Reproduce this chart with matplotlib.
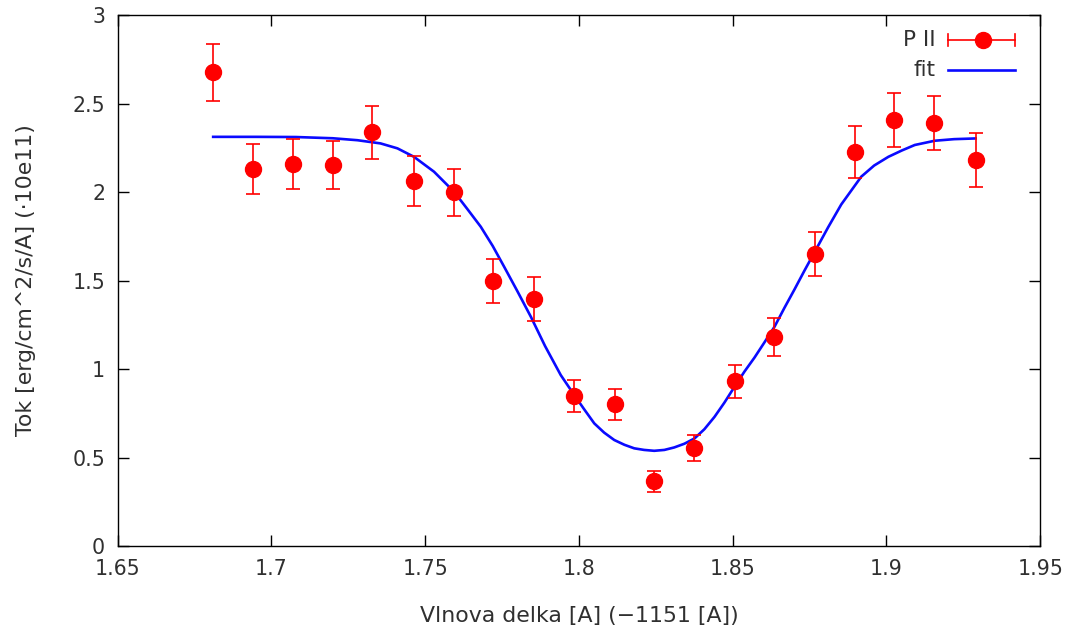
import matplotlib

matplotlib.use("Agg")
import matplotlib.pyplot as plt

wave = [1.6811, 1.6941, 1.7072, 1.7202, 1.7329, 1.7463, 1.7593, 1.7720, 1.7853, 1.7984,
        1.8117, 1.8244, 1.8375, 1.8508, 1.8635, 1.8769, 1.8899, 1.9026, 1.9156, 1.9290]
flux = [2.678, 2.130, 2.158, 2.153, 2.339, 2.062, 2.000, 1.497, 1.395, 0.847,
        0.802, 0.367, 0.554, 0.932, 1.181, 1.650, 2.226, 2.407, 2.390, 2.181]
flux_err = [0.161, 0.141, 0.141, 0.136, 0.150, 0.141, 0.133, 0.124, 0.124, 0.090,
            0.088, 0.059, 0.073, 0.093, 0.107, 0.127, 0.147, 0.153, 0.153, 0.150]

# fit curve
fit_x = [1.6811, 1.695, 1.708, 1.720, 1.7280, 1.7355, 1.7410, 1.7464, 1.7529, 1.7594,
         1.7637, 1.7681, 1.7720, 1.7757, 1.7800, 1.7844, 1.7890, 1.7941, 1.7985, 1.8017,
         1.8050, 1.8082, 1.8115, 1.8148, 1.8180, 1.8212, 1.8245, 1.8278, 1.8310, 1.8343,
         1.8376, 1.8408, 1.8441, 1.8473, 1.8506, 1.8538, 1.8571, 1.8603, 1.8636, 1.8668,
         1.8701, 1.8733, 1.8766, 1.8810, 1.8853, 1.8918, 1.8960, 1.9006, 1.9050, 1.9092,
         1.9157, 1.9220, 1.9290]
fit_y = [2.312, 2.312, 2.311, 2.304, 2.293, 2.275, 2.247, 2.199, 2.115, 2.002,
         1.905, 1.804, 1.695, 1.578, 1.440, 1.295, 1.130, 0.966, 0.853, 0.773,
         0.693, 0.641, 0.599, 0.572, 0.552, 0.543, 0.538, 0.543, 0.557, 0.578,
         0.608, 0.660, 0.730, 0.810, 0.900, 0.985, 1.065, 1.150, 1.239, 1.345,
         1.450, 1.555, 1.660, 1.800, 1.930, 2.087, 2.150, 2.199, 2.235, 2.266,
         2.290, 2.299, 2.303]

TXT = "#303030"

plt.rcParams["font.family"] = ["DejaVu Sans"]

fig = plt.figure(figsize=(10.78, 6.42), dpi=100)
ax = fig.add_axes([0.109, 0.1495, 0.856, 0.827])

ax.errorbar(wave, flux, yerr=flux_err, fmt="o", color="#ff0000", ecolor="#ff0000",
            markersize=11.5, elinewidth=1.2, capsize=4.8, capthick=1.2, zorder=3)
ax.plot(fit_x, fit_y, color="#0a0aff", linewidth=1.9, zorder=2,
        solid_joinstyle="round")

ax.set_xlim(1.65, 1.95)
ax.set_ylim(0, 3)
ax.set_xticks([1.65, 1.7, 1.75, 1.8, 1.85, 1.9, 1.95])
ax.set_xticklabels(["1.65", "1.7", "1.75", "1.8", "1.85", "1.9", "1.95"])
ax.set_yticks([0, 0.5, 1, 1.5, 2, 2.5, 3])
ax.set_yticklabels(["0", "0.5", "1", "1.5", "2", "2.5", "3"])
ax.tick_params(direction="in", length=8, width=1, top=True, right=True,
               labelsize=14.8, colors="black", labelcolor=TXT, pad=9)
for sp in ax.spines.values():
    sp.set_linewidth(1.0)

ax.set_xlabel("Vlnova delka [A] (\u22121151 [A])", fontsize=15.8, color=TXT, labelpad=20)
ax.set_ylabel("Tok [erg/cm^2/s/A] (\u00b710e11)", fontsize=15.8, color=TXT, labelpad=26)

# gnuplot-style key, top right
tr = ax.transAxes
ax.text(0.887, 0.953, "P II", transform=tr, ha="right", va="center", fontsize=15.5, color=TXT)
ax.plot([0.900, 0.973], [0.953, 0.953], transform=tr, color="#ff0000", lw=1.2)
ax.plot([0.900, 0.900], [0.941, 0.965], transform=tr, color="#ff0000", lw=1.2)
ax.plot([0.973, 0.973], [0.941, 0.965], transform=tr, color="#ff0000", lw=1.2)
ax.plot([0.938], [0.953], "o", transform=tr, color="#ff0000", markersize=11.5)
ax.text(0.887, 0.896, "fit", transform=tr, ha="right", va="center", fontsize=15.5, color=TXT)
ax.plot([0.900, 0.973], [0.896, 0.896], transform=tr, color="#0a0aff", lw=1.9)

fig.savefig("out.png", dpi=100)
